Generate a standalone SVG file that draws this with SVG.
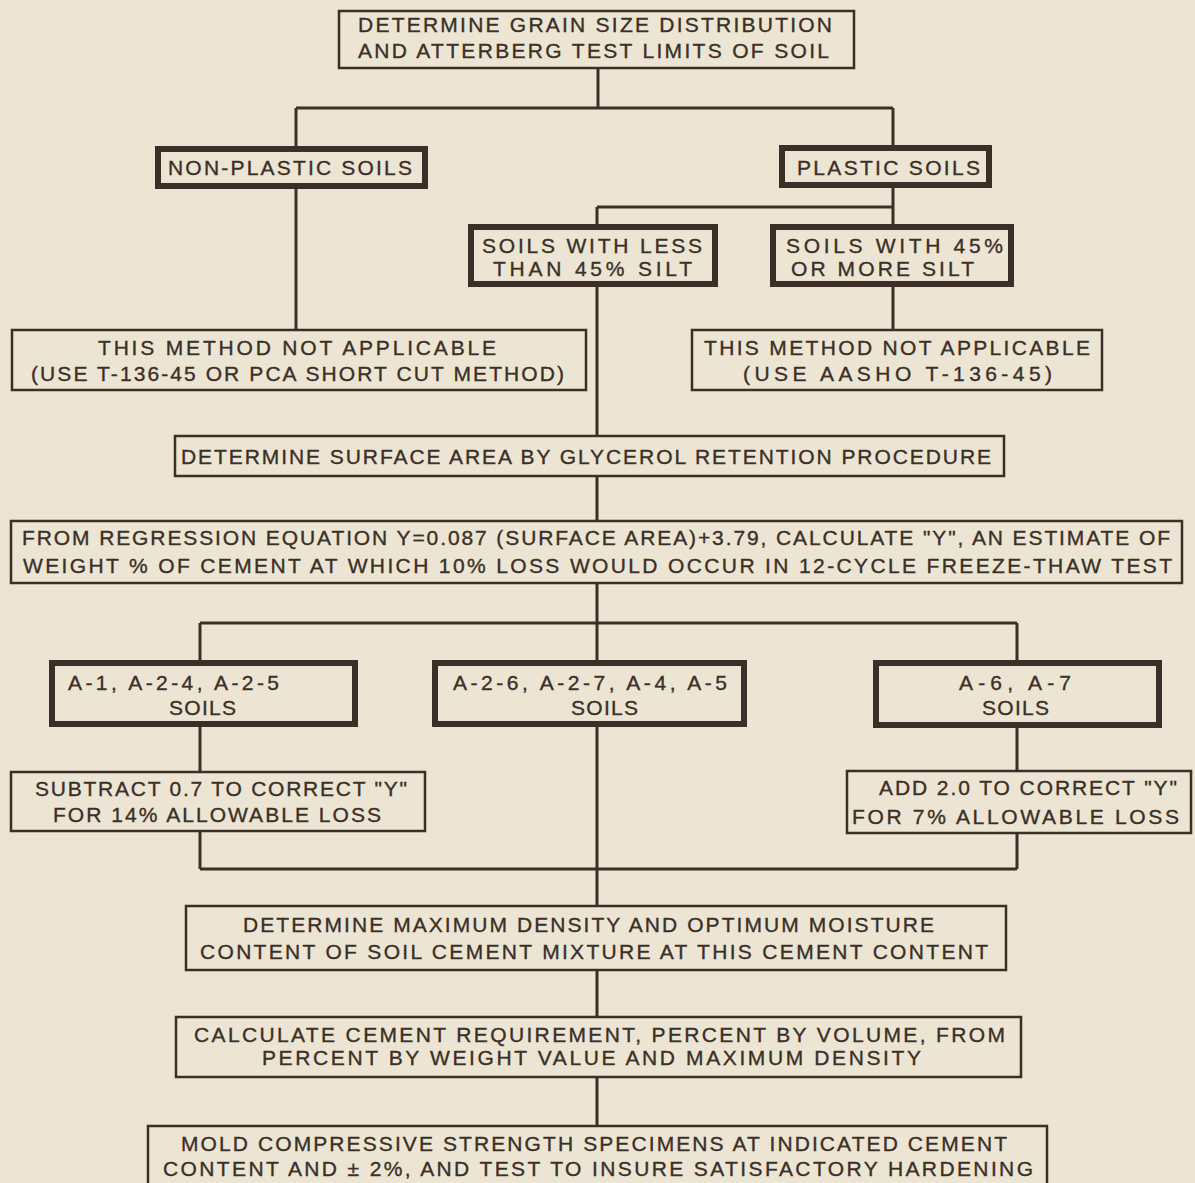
<svg xmlns="http://www.w3.org/2000/svg" width="1195" height="1183" viewBox="0 0 1195 1183">
<style>
.bg{fill:#ece5d3}
.thin{fill:none;stroke:#3b2f27;stroke-width:2.5}
.thick{fill:none;stroke:#3b2f27;stroke-width:6}
.c{fill:none;stroke:#3b2f27;stroke-width:3}
text{font-family:"Liberation Sans",Arial,sans-serif;font-size:21px;fill:#3b2f27;stroke:#3b2f27;stroke-width:0.35}
</style>
<rect class="bg" x="0" y="0" width="1195" height="1183"/>
<g id="connectors">
<path class="c" d="M598 68V108M296 108H893M296 108V146M893 108V145M296 189V329M893 188V224M597 207H893M597 207V224M893 287V329M597 287V435M597 476V520M597 584V660M200 623H1017M200 623V660M1017 623V660M200 727V771M1017 728V770M200 831V869M1017 833V869M200 869H1017M597 727V905M597 970V1016M597 1077V1125"/>
</g>
<g id="n-top">
<rect class="thin" x="339" y="11" width="515" height="57"/>
<text x="358" y="32" textLength="474" lengthAdjust="spacing">DETERMINE GRAIN SIZE DISTRIBUTION</text>
<text x="358" y="58" textLength="471" lengthAdjust="spacing">AND ATTERBERG TEST LIMITS OF SOIL</text>
</g>
<g id="n-nonplastic">
<rect class="thick" x="158" y="149" width="267" height="37"/>
<text x="168" y="175" textLength="244" lengthAdjust="spacing">NON-PLASTIC SOILS</text>
</g>
<g id="n-plastic">
<rect class="thick" x="782" y="148" width="207" height="37"/>
<text x="797" y="175" textLength="183" lengthAdjust="spacing">PLASTIC SOILS</text>
</g>
<g id="n-less45">
<rect class="thick" x="471" y="227" width="244" height="57"/>
<text x="482" y="253" textLength="220" lengthAdjust="spacing">SOILS WITH LESS</text>
<text x="493" y="276" textLength="199" lengthAdjust="spacing">THAN 45% SILT</text>
</g>
<g id="n-more45">
<rect class="thick" x="773" y="227" width="238" height="57"/>
<text x="786" y="253" textLength="217" lengthAdjust="spacing">SOILS WITH 45%</text>
<text x="791" y="276" textLength="183" lengthAdjust="spacing">OR MORE SILT</text>
</g>
<g id="n-na-left">
<rect class="thin" x="12" y="330" width="574" height="60"/>
<text x="98" y="355" textLength="398" lengthAdjust="spacing">THIS METHOD NOT APPLICABLE</text>
<text x="31" y="381" textLength="533" lengthAdjust="spacing">(USE T-136-45 OR PCA SHORT CUT METHOD)</text>
</g>
<g id="n-na-right">
<rect class="thin" x="692" y="330" width="410" height="60"/>
<text x="704" y="355" textLength="386" lengthAdjust="spacing">THIS METHOD NOT APPLICABLE</text>
<text x="743" y="381" textLength="309" lengthAdjust="spacing">(USE AASHO T-136-45)</text>
</g>
<g id="n-glycerol">
<rect class="thin" x="175" y="436" width="829" height="40"/>
<text x="181" y="464" textLength="810" lengthAdjust="spacing">DETERMINE SURFACE AREA BY GLYCEROL RETENTION PROCEDURE</text>
</g>
<g id="n-regression">
<rect class="thin" x="11" y="521" width="1171" height="62"/>
<text x="22" y="545" textLength="1148" lengthAdjust="spacing">FROM REGRESSION EQUATION Y=0.087 (SURFACE AREA)+3.79, CALCULATE "Y", AN ESTIMATE OF</text>
<text x="23" y="573" textLength="1149" lengthAdjust="spacing">WEIGHT % OF CEMENT AT WHICH 10% LOSS WOULD OCCUR IN 12-CYCLE FREEZE-THAW TEST</text>
</g>
<g id="n-a1">
<rect class="thick" x="52" y="663" width="303" height="61"/>
<text x="68" y="690" textLength="211" lengthAdjust="spacing">A-1, A-2-4, A-2-5</text>
<text x="169" y="715" textLength="67" lengthAdjust="spacing">SOILS</text>
</g>
<g id="n-a26">
<rect class="thick" x="435" y="663" width="309" height="61"/>
<text x="453" y="690" textLength="274" lengthAdjust="spacing">A-2-6, A-2-7, A-4, A-5</text>
<text x="571" y="715" textLength="67" lengthAdjust="spacing">SOILS</text>
</g>
<g id="n-a6">
<rect class="thick" x="876" y="663" width="283" height="62"/>
<text x="959" y="690" textLength="112" lengthAdjust="spacing">A-6, A-7</text>
<text x="982" y="715" textLength="67" lengthAdjust="spacing">SOILS</text>
</g>
<g id="n-subtract">
<rect class="thin" x="11" y="772" width="414" height="59"/>
<text x="35" y="796" textLength="372" lengthAdjust="spacing">SUBTRACT 0.7 TO CORRECT "Y"</text>
<text x="53" y="822" textLength="328" lengthAdjust="spacing">FOR 14% ALLOWABLE LOSS</text>
</g>
<g id="n-add">
<rect class="thin" x="847" y="771" width="344" height="62"/>
<text x="879" y="795" textLength="298" lengthAdjust="spacing">ADD 2.0 TO CORRECT "Y"</text>
<text x="852" y="824" textLength="327" lengthAdjust="spacing">FOR 7% ALLOWABLE LOSS</text>
</g>
<g id="n-maxdensity">
<rect class="thin" x="186" y="906" width="820" height="64"/>
<text x="243" y="932" textLength="691" lengthAdjust="spacing">DETERMINE MAXIMUM DENSITY AND OPTIMUM MOISTURE</text>
<text x="200" y="959" textLength="788" lengthAdjust="spacing">CONTENT OF SOIL CEMENT MIXTURE AT THIS CEMENT CONTENT</text>
</g>
<g id="n-calc">
<rect class="thin" x="176" y="1017" width="845" height="60"/>
<text x="194" y="1042" textLength="811" lengthAdjust="spacing">CALCULATE CEMENT REQUIREMENT, PERCENT BY VOLUME, FROM</text>
<text x="262" y="1065" textLength="659" lengthAdjust="spacing">PERCENT BY WEIGHT VALUE AND MAXIMUM DENSITY</text>
</g>
<g id="n-mold">
<rect class="thin" x="148" y="1126" width="899" height="70"/>
<text x="181" y="1151" textLength="826" lengthAdjust="spacing">MOLD COMPRESSIVE STRENGTH SPECIMENS AT INDICATED CEMENT</text>
<text x="163" y="1176" textLength="870" lengthAdjust="spacing">CONTENT AND ± 2%, AND TEST TO INSURE SATISFACTORY HARDENING</text>
</g>
</svg>
